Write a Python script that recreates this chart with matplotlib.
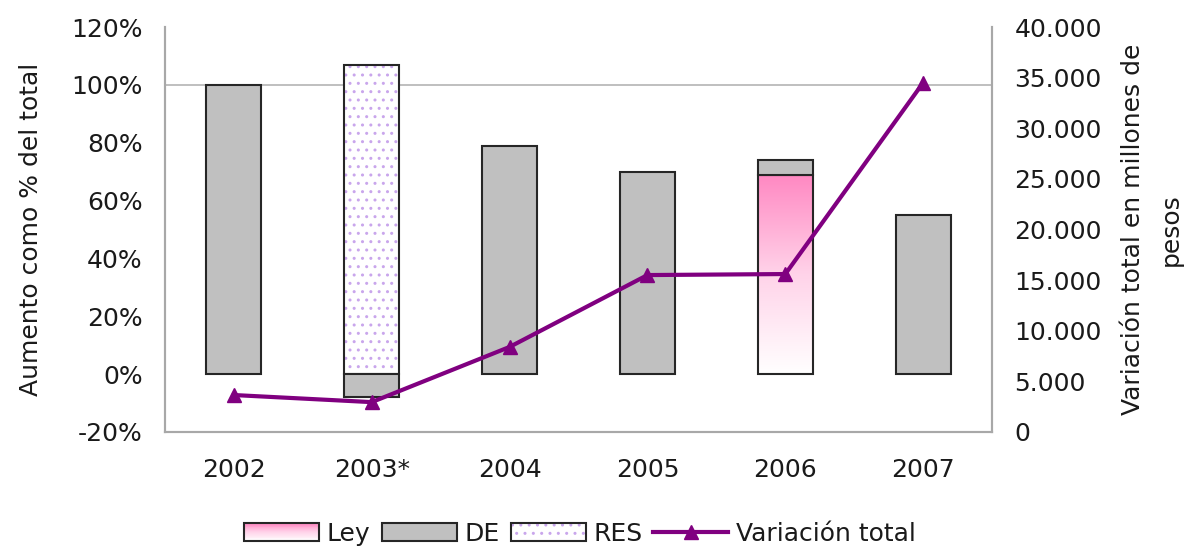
import numpy as np
import matplotlib
matplotlib.use("Agg")
import matplotlib.pyplot as plt
from matplotlib.colors import LinearSegmentedColormap
from matplotlib.patches import Rectangle
from matplotlib.lines import Line2D
from matplotlib.legend_handler import HandlerBase
from matplotlib.ticker import FixedLocator, FuncFormatter

# Data
years = ['2002', '2003*', '2004', '2005', '2006', '2007']
ley = [0, 0, 0, 0, 69, 0]            # % of total increase
de = [100, -8, 79, 70, 5, 55]        # % of total increase
res = [0, 107, 0, 0, 0, 0]           # % of total increase
variacion = [3650, 2950, 8400, 15500, 15600, 34500]  # millions of pesos

left_ticks = [-20, 0, 20, 40, 60, 80, 100, 120]
right_ticks = [0, 5000, 10000, 15000, 20000, 25000, 30000, 35000, 40000]

plt.rcParams['font.family'] = ['DejaVu Sans']
FS = 18
TXT = '#1a1a1a'
GRAY_FILL = '#c0c0c0'
EDGE = '#262626'
PINK = '#ff88c2'
PURPLE = '#800080'
DOT = '#c9a6ec'

pink_cmap = LinearSegmentedColormap.from_list('ley', ['#ffffff', '#ffd3e9', PINK])

fig = plt.figure(figsize=(11.91, 5.48), dpi=100)
ax = fig.add_axes([0.1385, 0.2117, 0.6945, 0.739])
ax2 = ax.twinx()

x = np.arange(len(years))
w = 0.4

# Stacked bars
for i in range(len(years)):
    # Ley: vertical gradient fill
    if ley[i] > 0:
        grad = np.linspace(0, 1, 256).reshape(-1, 1)
        ax.imshow(grad, cmap=pink_cmap, origin='lower', aspect='auto',
                  extent=[x[i] - w / 2, x[i] + w / 2, 0, ley[i]], zorder=2)
        ax.bar(x[i], ley[i], w, bottom=0, facecolor='none', edgecolor=EDGE,
               linewidth=1.5, zorder=3)
    # RES: white with dotted pattern
    if res[i] > 0:
        ax.bar(x[i], res[i], w, bottom=0, facecolor='white', edgecolor=DOT,
               hatch='..', linewidth=0, zorder=2)
        ax.bar(x[i], res[i], w, bottom=0, facecolor='none', edgecolor=EDGE,
               linewidth=1.5, zorder=3)
    # DE: stacked on top of Ley when positive, below zero when negative
    if de[i] != 0:
        base = ley[i] if de[i] > 0 else 0
        ax.bar(x[i], de[i], w, bottom=base, facecolor=GRAY_FILL, edgecolor=EDGE,
               linewidth=1.5, zorder=3)

ax.set_xlim(-0.5, len(years) - 0.5)
ax.set_ylim(-20, 120)
ax.axhline(100, color='#b4b4b4', linewidth=1.2, zorder=1)
ax.set_facecolor('white')

ax.yaxis.set_major_locator(FixedLocator(left_ticks))
ax.yaxis.set_major_formatter(FuncFormatter(lambda v, p: f'{int(v)}%'))
ax.set_xticks(x)
ax.set_xticklabels(years)
ax.tick_params(axis='both', length=0, labelsize=FS, colors=TXT)
ax.tick_params(axis='y', pad=16)
ax.tick_params(axis='x', pad=19)
ax.set_ylabel('Aumento como % del total', fontsize=FS, color=TXT, labelpad=20)

# Line on secondary axis
ax2.plot(x, variacion, color=PURPLE, linewidth=3, marker='^', markersize=10,
         zorder=5)
ax2.set_ylim(0, 40000)
ax2.yaxis.set_major_locator(FixedLocator(right_ticks))
ax2.yaxis.set_major_formatter(
    FuncFormatter(lambda v, p: f'{int(v):,}'.replace(',', '.')))
ax2.tick_params(axis='y', length=0, labelsize=FS, colors=TXT, pad=16)
ax2.set_ylabel('Variación total en millones de\npesos', fontsize=FS, color=TXT,
               labelpad=14, linespacing=1.7)

for a in (ax, ax2):
    for side in ('left', 'right', 'bottom'):
        a.spines[side].set_color('#a8a8a8')
        a.spines[side].set_linewidth(1.5)
    a.spines['top'].set_visible(False)


# Legend handlers
class GradientHandler(HandlerBase):
    def create_artists(self, legend, orig_handle, xdescent, ydescent,
                       width, height, fontsize, trans):
        arts = []
        n = 20
        for k in range(n):
            c = pink_cmap(k / (n - 1))
            arts.append(Rectangle((-xdescent, -ydescent + height * k / n),
                                  width, height / n + 0.3, facecolor=c,
                                  edgecolor='none', transform=trans))
        arts.append(Rectangle((-xdescent, -ydescent), width, height,
                              facecolor='none', edgecolor=EDGE, linewidth=1.5,
                              transform=trans))
        return arts


class DottedHandler(HandlerBase):
    def create_artists(self, legend, orig_handle, xdescent, ydescent,
                       width, height, fontsize, trans):
        r1 = Rectangle((-xdescent, -ydescent), width, height, facecolor='white',
                       edgecolor=DOT, hatch='..', linewidth=0, transform=trans)
        r2 = Rectangle((-xdescent, -ydescent), width, height, facecolor='none',
                       edgecolor=EDGE, linewidth=1.5, transform=trans)
        return [r1, r2]


h_ley = Rectangle((0, 0), 1, 1)
h_de = Rectangle((0, 0), 1, 1, facecolor=GRAY_FILL, edgecolor=EDGE, linewidth=1.5)
h_res = Rectangle((0, 0), 1, 1)
h_var = Line2D([], [], color=PURPLE, linewidth=3, marker='^', markersize=10)

fig.legend([h_ley, h_de, h_res, h_var], ['Ley', 'DE', 'RES', 'Variación total'],
           handler_map={h_ley: GradientHandler(), h_res: DottedHandler()},
           loc='center', bbox_to_anchor=(0.487, 0.026), ncol=4, frameon=False,
           fontsize=FS, handlelength=3.0, handleheight=0.75, handletextpad=0.3,
           columnspacing=0.45, labelcolor=TXT)

fig.savefig('out.png', dpi=100, facecolor='white')
